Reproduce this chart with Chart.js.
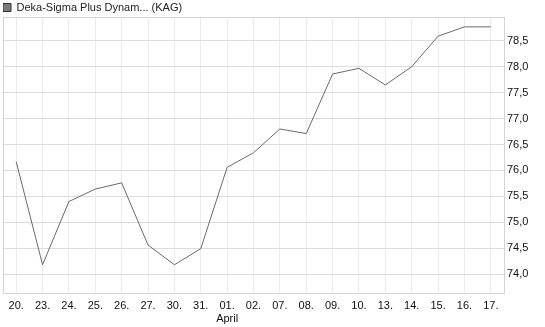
<!DOCTYPE html>
<html>
<head>
<meta charset="utf-8">
<script src="https://cdn.jsdelivr.net/npm/chart.js@4"></script>
<style>
  html, body { margin: 0; padding: 0; background: #fff; }
  #wrap { width: 545px; height: 327px; }
</style>
</head>
<body>
<div id="wrap"><canvas id="fundChart" width="545" height="327"></canvas></div>
<script>
// Kursverlauf Deka-Sigma Plus Dynamisch
const labels = ['20.', '23.', '24.', '25.', '26.', '27.', '30.', '31.', ['01.', 'April'], '02.', '07.', '08.', '09.', '10.', '13.', '14.', '15.', '16.', '17.'];
const prices = [76.17, 74.18, 75.40, 75.64, 75.76, 74.56, 74.18, 74.49, 76.06, 76.34, 76.80, 76.71, 77.86, 77.97, 77.65, 78.00, 78.59, 78.77, 78.77];
const yTicks = [74.0, 74.5, 75.0, 75.5, 76.0, 76.5, 77.0, 77.5, 78.0, 78.5];

// draws the box round the plot area
const frame = {
    id: 'frame',
    afterDraw(chart) {
        const a = chart.chartArea;
        const ctx = chart.ctx;
        ctx.save();
        ctx.strokeStyle = '#d4d4d4';
        ctx.lineWidth = 1;
        ctx.strokeRect(Math.round(a.left) + 0.5, Math.round(a.top) + 0.5, Math.round(a.right - a.left), Math.round(a.bottom - a.top));
        ctx.restore();
    }
};

const chartItem = document.getElementById('fundChart');
if (chartItem) {
    const chart = new Chart(chartItem, {
        type: 'line',
        data: {
            labels: labels,
            datasets: [{
                label: 'Deka-Sigma Plus Dynam... (KAG)',
                data: prices,
                borderColor: '#6a6a6a',
                backgroundColor: '#7a7a7a',
                borderWidth: 1,
                pointRadius: 0,
                tension: 0,
                fill: false
            }]
        },
        options: {
            responsive: false,
            animation: false,
            layout: {
                padding: { left: 3, right: 0, top: 2, bottom: 0 }
            },
            plugins: {
                legend: {
                    display: true,
                    position: 'top',
                    align: 'start',
                    maxHeight: 15,
                    labels: {
                        boxWidth: 8,
                        boxHeight: 8,
                        padding: 0,
                        color: '#222',
                        font: { family: 'Liberation Sans', size: 11 },
                        generateLabels(chart) {
                            const items = Chart.defaults.plugins.legend.labels.generateLabels(chart);
                            items.forEach(item => {
                                item.fillStyle = '#7a7a7a';
                                item.strokeStyle = '#333';
                                item.lineWidth = 1;
                            });
                            return items;
                        }
                    }
                },
                tooltip: { enabled: false }
            },
            scales: {
                x: {
                    offset: true,
                    grid: {
                        offset: false,
                        color: '#ececec',
                        drawTicks: false
                    },
                    border: { display: false },
                    ticks: {
                        color: '#111',
                        padding: 6,
                        maxRotation: 0,
                        autoSkip: false,
                        font: { family: 'Liberation Sans', size: 11 }
                    },
                    afterFit(scale) { scale.height = 34; }
                },
                y: {
                    position: 'right',
                    min: 73.635,
                    max: 78.96,
                    afterBuildTicks(scale) {
                        scale.ticks = yTicks.map(v => ({ value: v }));
                    },
                    grid: {
                        color: '#dcdcdc',
                        drawTicks: false
                    },
                    border: { display: false },
                    ticks: {
                        color: '#111',
                        padding: 3,
                        font: { family: 'Liberation Sans', size: 11 },
                        callback: v => v.toFixed(1).replace('.', ',')
                    },
                    afterFit(scale) { scale.width = 41; }
                }
            }
        },
        plugins: [frame]
    });
}
</script>
</body>
</html>
